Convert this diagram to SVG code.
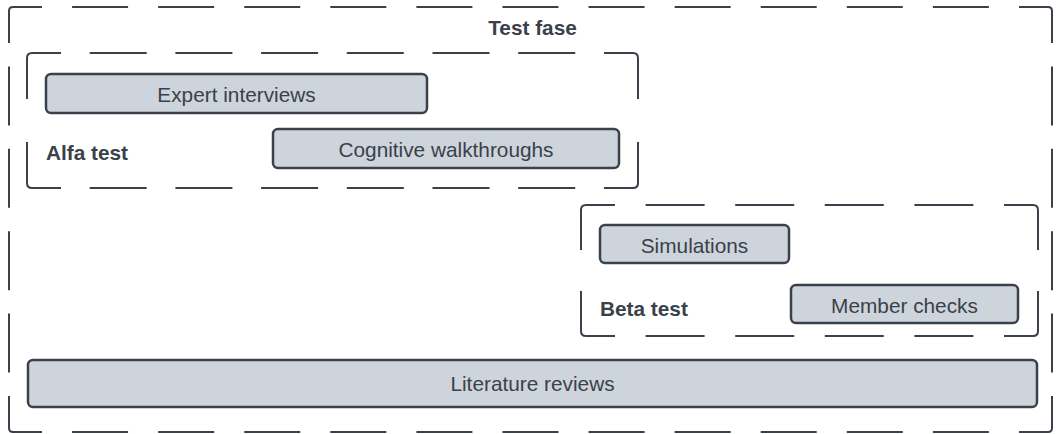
<svg xmlns="http://www.w3.org/2000/svg" width="1059" height="434" viewBox="0 0 1059 434">
<style>
.frame{fill:none;stroke:#3a414a;stroke-width:2;stroke-linecap:butt}
.node{fill:#ced4db;stroke:#3a414a;stroke-width:2.5}
.lbl{font-family:"Liberation Sans",Arial,sans-serif;font-size:20.8px;fill:#3a414a;text-anchor:middle}
.ttl{font-family:"Liberation Sans",Arial,sans-serif;font-size:20.8px;font-weight:bold;fill:#3a414a}
</style>
<rect width="1059" height="434" fill="#ffffff"/>
<g id="test-fase">
<path class="frame" d="M9,43 V11 Q9,7 13,7 H42 M1019,7 H1048 Q1052,7 1052,11 V43 M1052,396 V428 Q1052,432 1048,432 H1019 M42,432 H13 Q9,432 9,428 V396"/>
<path class="frame" stroke-dasharray="56 30.08" d="M72.08,7 H988.92 M72.08,432 H988.92"/>
<path class="frame" stroke-dasharray="59 23.4" d="M9,66.4 V372.6 M1052,66.4 V372.6"/>
<text class="ttl" x="532.5" y="35" text-anchor="middle">Test fase</text>
</g>
<g id="alfa-test">
<path class="frame" d="M27,99 V58 Q27,53 32,53 H61 M604,53 H633 Q638,53 638,58 V99 M638,142 V183 Q638,188 633,188 H604 M61,188 H32 Q27,188 27,183 V142"/>
<path class="frame" stroke-dasharray="57 28.7" d="M89.7,53 H575.3 M89.7,188 H575.3"/>
<text class="ttl" x="46" y="160">Alfa test</text>
</g>
<g id="beta-test">
<path class="frame" d="M581,250 V210 Q581,205 586,205 H615 M1004,205 H1033 Q1038,205 1038,210 V250 M1038,291 V331 Q1038,336 1033,336 H1004 M615,336 H586 Q581,336 581,331 V291"/>
<path class="frame" stroke-dasharray="59 30.6" d="M645.6,205 H973.4 M645.6,336 H973.4"/>
<text class="ttl" x="600" y="316">Beta test</text>
</g>
<g id="expert-interviews">
<rect class="node" x="46" y="74" width="381" height="39" rx="5"/>
<text class="lbl" x="236.5" y="101.5">Expert interviews</text>
</g>
<g id="cognitive-walkthroughs">
<rect class="node" x="273" y="129" width="346" height="39" rx="5"/>
<text class="lbl" x="446" y="156.5">Cognitive walkthroughs</text>
</g>
<g id="simulations">
<rect class="node" x="600" y="225" width="189" height="38" rx="5"/>
<text class="lbl" x="694.5" y="252.5">Simulations</text>
</g>
<g id="member-checks">
<rect class="node" x="791" y="285" width="227" height="38" rx="5"/>
<text class="lbl" x="904.5" y="312.5">Member checks</text>
</g>
<g id="literature-reviews">
<rect class="node" x="28" y="360" width="1009" height="47" rx="5"/>
<text class="lbl" x="532.5" y="391">Literature reviews</text>
</g>
<g id="connectors"></g>
</svg>
